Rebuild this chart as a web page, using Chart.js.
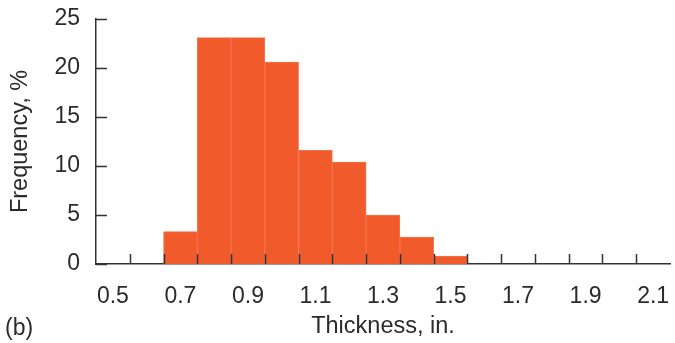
<!DOCTYPE html>
<html>
<head>
<meta charset="utf-8">
<script src="https://cdn.jsdelivr.net/npm/chart.js@4"></script>
<style>
  html, body { margin: 0; padding: 0; background: #fff; }
  #wrap { width: 675px; height: 343px; position: relative; }
</style>
</head>
<body>
<div id="wrap"><canvas id="hist"></canvas></div>
<script>
// histogram data: bin centres (in.) and frequency (%)
const binCenters = [0.7, 0.8, 0.9, 1.0, 1.1, 1.2, 1.3, 1.4, 1.5];
const frequency = [3.3, 23.1, 23.1, 20.6, 11.6, 10.4, 5.0, 2.75, 0.8];

// axis ticks
const xLabelTicks = [0.5, 0.7, 0.9, 1.1, 1.3, 1.5, 1.7, 1.9, 2.1];
const xEdgeTicks = [0.55, 0.65, 0.75, 0.85, 0.95, 1.05, 1.15, 1.25, 1.35, 1.45, 1.55, 1.65, 1.75, 1.85, 1.95, 2.05];
const yTicks = [0, 5, 10, 15, 20, 25];

const textColor = "#2b2b2b";
const axisColor = "#333";
const fontFamily = "'Liberation Sans', Arial, Helvetica, sans-serif";

// inward tick marks + panel label
const innerTicks = {
  id: "innerTicks",
  afterDatasetsDraw(chart) {
    const { ctx, chartArea, scales } = chart;
    ctx.save();
    ctx.strokeStyle = axisColor;
    ctx.lineWidth = 1.5;
    ctx.beginPath();
    xEdgeTicks.forEach((v) => {
      const px = Math.round(scales.x.getPixelForValue(v)) + 0.5;
      ctx.moveTo(px, chartArea.bottom);
      ctx.lineTo(px, chartArea.bottom - 10);
    });
    yTicks.forEach((v) => {
      const py = Math.round(scales.y.getPixelForValue(v)) + 0.5;
      ctx.moveTo(chartArea.left, py);
      ctx.lineTo(chartArea.left + 11, py);
    });
    ctx.stroke();

    ctx.fillStyle = textColor;
    ctx.font = "23px " + fontFamily;
    ctx.textAlign = "left";
    ctx.textBaseline = "alphabetic";
    ctx.fillText("(b)", 5, 335);
    ctx.restore();
  },
};

new Chart(document.getElementById("hist"), {
  type: "bar",
  data: {
    datasets: [
      {
        label: "Frequency",
        data: binCenters.map((x, i) => ({ x: x, y: frequency[i] })),
        backgroundColor: "#F15B2C",
        borderColor: "#F4734C",
        borderWidth: 1,
        barPercentage: 1,
        categoryPercentage: 1,
      },
    ],
  },
  options: {
    responsive: true,
    maintainAspectRatio: false,
    animation: false,
    layout: { padding: { left: 0, right: 5, top: 19, bottom: 0 } },
    plugins: { legend: { display: false }, tooltip: { enabled: false } },
    scales: {
      x: {
        type: "linear",
        offset: false,
        min: 0.45,
        max: 2.15,
        afterBuildTicks: (scale) => {
          scale.ticks = xLabelTicks.map((v) => ({ value: v }));
        },
        afterFit: (scale) => {
          scale.height = 79;
          scale.paddingLeft = 0;
          scale.paddingRight = 0;
        },
        grid: { display: false, drawTicks: false, offset: false },
        border: { display: true, color: axisColor, width: 1.5 },
        ticks: {
          autoSkip: false,
          maxRotation: 0,
          padding: 19,
          color: textColor,
          font: { size: 23, family: fontFamily },
          callback: (v) => Number(v).toFixed(1),
        },
        title: {
          display: true,
          text: "Thickness, in.",
          color: textColor,
          font: { size: 23.5, family: fontFamily },
          padding: { top: 0, bottom: 2 },
        },
      },
      y: {
        min: 0,
        max: 25,
        afterBuildTicks: (scale) => {
          scale.ticks = yTicks.map((v) => ({ value: v }));
        },
        afterFit: (scale) => {
          scale.width = 96;
          scale.paddingTop = 0;
          scale.paddingBottom = 0;
        },
        grid: { display: false, drawTicks: false },
        border: { display: true, color: axisColor, width: 1.5 },
        ticks: {
          padding: 16,
          color: textColor,
          font: { size: 23, family: fontFamily },
        },
        title: {
          display: true,
          text: "Frequency, %",
          color: textColor,
          font: { size: 23.5, family: fontFamily },
          padding: { top: 6, bottom: 0 },
        },
      },
    },
  },
  plugins: [innerTicks],
});
</script>
</body>
</html>
